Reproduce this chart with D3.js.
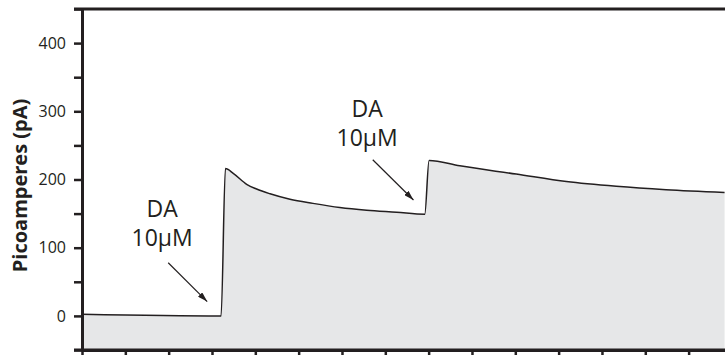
<!DOCTYPE html>
<html>
<head>
<meta charset="utf-8">
<script src="https://cdn.jsdelivr.net/npm/d3@7"></script>
<style>
    html, body { margin: 0; padding: 0; background: #fff; }
    svg { display: block; font-family: 'Open Sans', 'Noto Sans', sans-serif; }
</style>
</head>
<body>
<svg id="chart" width="725" height="355"></svg>
<script>
// recording, time in tick units, current in pA
const times = [0, 3.21, 3.31, 3.49, 3.80, 4.03, 4.34, 4.80, 5.33, 5.95, 6.57, 7.26, 7.91,
    8.01, 8.72, 10.02, 11.18, 12.33, 13.48, 14.83]
const current = [2.5, 0, 216, 209, 193, 186, 179, 171, 165, 159, 155, 152, 149,
    228, 220, 208, 197, 190, 185, 181]

const yLabelTicks = [0, 100, 200, 300, 400]
const yMinorTicks = [-50, 0, 50, 100, 150, 200, 250, 300, 350, 400, 450]
const xTicks = d3.range(0, 16)
const yTitle = 'Picoamperes (pA)'
const noteLines = ['DA', '10µM']
// where each dopamine puff was labelled (time, pA)
const notes = [
    { t: 1.85, v: 145, from: [1.99, 78], to: [2.89, 21] },
    { t: 6.58, v: 292, from: [6.71, 229], to: [7.65, 170] }
]

const ink = '#231f20'
const svg = d3.select('#chart')

const x = d3.scaleLinear().domain([0, 15]).range([82, 82 + 15 * 43.33])
const y = d3.scaleLinear().domain([-50, 450]).range([350, 9])

const pts = times.map((t, i) => [t, current[i]])

svg.append('path')
    .datum(pts)
    .attr('fill', '#e6e7e8')
    .attr('d', d3.area()
        .x(d => x(d[0]))
        .y0(y(-50))
        .y1(d => y(d[1]))
        .curve(d3.curveMonotoneX))

svg.append('path')
    .datum(pts)
    .attr('fill', 'none')
    .attr('stroke', ink)
    .attr('stroke-width', 1.5)
    .attr('d', d3.line()
        .x(d => x(d[0]))
        .y(d => y(d[1]))
        .curve(d3.curveMonotoneX))

// top frame line
svg.append('line')
    .attr('x1', 74).attr('x2', 725)
    .attr('y1', y(450)).attr('y2', y(450))
    .attr('stroke', ink).attr('stroke-width', 3)

// bottom axis
svg.append('g')
    .attr('transform', `translate(0, ${y(-50)})`)
    .call(d3.axisBottom(x).tickValues(xTicks).tickSize(6).tickSizeOuter(0).tickFormat(''))
    .call(g => {
        g.select('.domain').attr('stroke', ink).attr('stroke-width', 3)
        g.selectAll('.tick line').attr('stroke', ink).attr('stroke-width', 2.5)
    })
svg.append('line')
    .attr('x1', 74).attr('x2', 725)
    .attr('y1', y(-50)).attr('y2', y(-50))
    .attr('stroke', ink).attr('stroke-width', 3)

// left axis
svg.append('g')
    .attr('transform', `translate(${x(0)}, 0)`)
    .call(d3.axisLeft(y).tickValues(yMinorTicks).tickSize(8).tickSizeOuter(0).tickPadding(8)
        .tickFormat(d => yLabelTicks.includes(d) ? d : ''))
    .call(g => {
        g.select('.domain').attr('stroke', ink).attr('stroke-width', 3)
        g.selectAll('.tick line').attr('stroke', ink).attr('stroke-width', 2.5)
        g.selectAll('.tick text')
            .attr('fill', ink)
            .style('font-size', '16px')
            .style('font-family', "'Open Sans', sans-serif")
    })

svg.append('text')
    .attr('transform', `translate(27, ${(y(450) + y(-50)) / 2 + 6}) rotate(-90)`)
    .attr('text-anchor', 'middle')
    .attr('fill', ink)
    .style('font-size', '20px')
    .style('font-weight', 'bold')
    .text(yTitle)

svg.append('defs').append('marker')
    .attr('id', 'head')
    .attr('viewBox', '0 0 10 6')
    .attr('refX', 10).attr('refY', 3)
    .attr('markerWidth', 10).attr('markerHeight', 6)
    .attr('markerUnits', 'userSpaceOnUse')
    .attr('orient', 'auto')
    .append('path')
    .attr('d', 'M0,0 L10,3 L0,6 Z')
    .attr('fill', ink)

notes.forEach(n => {
    noteLines.forEach((line, i) => {
        svg.append('text')
            .attr('x', x(n.t))
            .attr('y', y(n.v) + i * 29)
            .attr('text-anchor', 'middle')
            .attr('fill', ink)
            .style('font-size', '23px')
            .text(line)
    })
    svg.append('line')
        .attr('x1', x(n.from[0])).attr('y1', y(n.from[1]))
        .attr('x2', x(n.to[0])).attr('y2', y(n.to[1]))
        .attr('stroke', ink)
        .attr('stroke-width', 1.2)
        .attr('marker-end', 'url(#head)')
})
</script>
</body>
</html>
